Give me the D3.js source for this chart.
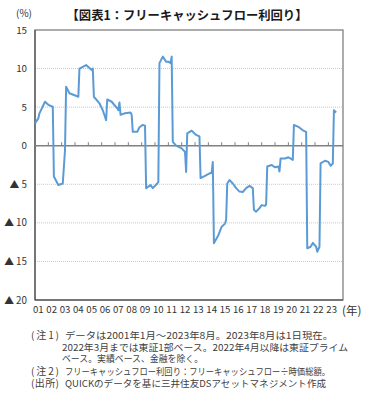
<!DOCTYPE html>
<html>
<head>
<meta charset="utf-8">
<script src="https://cdn.jsdelivr.net/npm/d3@7"></script>
<style>
  body { margin: 0; background: #fff; }
  svg { display: block; font-family: "Noto Sans CJK JP", "Noto Sans", sans-serif; }
</style>
</head>
<body>
<div id="chart"></div>
<script>
// フリーキャッシュフロー利回り（%）, 月次 (読み取り値)
const fcfMonths = [
  "2001-01","2001-04","2001-05","2001-10","2002-01","2002-05","2002-06","2002-10","2003-02","2003-04",
  "2003-05","2003-08","2004-04","2004-05","2004-11","2005-04","2005-05","2005-06","2005-11","2006-02",
  "2006-05","2006-06","2006-10","2007-03","2007-04","2007-05","2007-06","2007-10","2008-03","2008-04",
  "2008-05","2008-09","2008-11","2009-02","2009-04","2009-05","2009-09","2009-11","2010-03","2010-04",
  "2010-05","2010-08","2010-11","2011-01","2011-03","2011-04","2011-05","2011-08","2012-01","2012-04",
  "2012-05","2012-06","2012-10","2013-02","2013-05","2013-06","2013-10","2014-02","2014-04","2014-05",
  "2014-06","2014-10","2015-01","2015-04","2015-05","2015-06","2015-08","2015-11","2016-02","2016-05",
  "2016-08","2016-11","2017-02","2017-05","2017-06","2017-08","2017-11","2018-01","2018-04","2018-05",
  "2018-06","2018-10","2019-01","2019-04","2019-05","2019-06","2019-10","2020-01","2020-04","2020-05",
  "2020-06","2020-10","2021-02","2021-05","2021-06","2021-09","2021-11","2022-02","2022-03","2022-05",
  "2022-06","2022-10","2023-01","2023-03","2023-05","2023-06","2023-08"
];
const fcfValues = [
  2.9, 3.55, 4.2, 5.7, 5.3, 5.05, -4.0, -5.1, -4.9, -0.55,
  7.65, 6.8, 6.35, 10.0, 10.45, 9.8, 10.0, 6.35, 5.5, 4.6,
  3.3, 6.0, 5.7, 4.85, 4.6, 5.6, 4.0, 4.2, 4.3, 4.0,
  1.8, 1.8, 2.4, 2.7, 2.6, -5.5, -5.1, -5.5, -4.9, -4.7,
  10.7, 11.55, 10.9, 10.9, 10.7, 11.55, 0.5, 0.0, -0.35, -0.8,
  -3.4, 1.6, 1.95, 1.4, 1.2, -4.2, -3.9, -3.6, -3.5, -2.1,
  -12.65, -11.6, -10.5, -10.1, -9.6, -4.9, -4.45, -4.9, -5.5, -5.95,
  -6.0, -5.5, -5.2, -5.5, -8.3, -8.55, -8.1, -7.7, -7.8, -7.6,
  -2.7, -2.5, -2.8, -2.7, -3.35, -1.65, -1.65, -1.5, -1.75, -1.85,
  2.7, 2.45, 2.0, 1.8, -13.3, -13.1, -12.6, -13.1, -13.75, -13.1,
  -2.3, -1.95, -2.1, -2.6, -2.3, 4.6, 4.3
];
const yearLabels = ["01","02","03","04","05","06","07","08","09","10","11","12",
                    "13","14","15","16","17","18","19","20","21","22","23"];
const yTicks = [15, 10, 5, 0, -5, -10, -15, -20];
const noteHeads = ["(注1)", "(注2)", "(出所)"];
const noteLines = [
  ["データは2001年1月～2023年8月。2023年8月は1日現在。",
   "2022年3月までは東証1部ベース。2022年4月以降は東証プライム",
   "ベース。実績ベース、金融を除く。"],
  ["フリーキャッシュフロー利回り：フリーキャッシュフロー÷時価総額。"],
  ["QUICKのデータを基に三井住友DSアセットマネジメント作成"]
];
// widths measured on the reference (px)
const noteWidths = [[268, 286, 141], [265], [261]];

const W = 384, H = 395;
const plot = { left: 35, right: 343, top: 30, bottom: 300 };

const monthIndex = s => {
  const [yy, mm] = s.split("-").map(Number);
  return (yy - 2001) * 12 + (mm - 1);
};
const data = fcfMonths.map((m, i) => ({ m: monthIndex(m), v: fcfValues[i] }));

const svg = d3.select("#chart").append("svg").attr("width", W).attr("height", H);

const x = d3.scaleLinear().domain([0, yearLabels.length * 12]).range([plot.left, 341.7]);
const y = d3.scaleLinear().domain([-20, 15]).range([plot.bottom, plot.top]);

// title
svg.append("text")
  .attr("x", 187).attr("y", 19.5)
  .attr("text-anchor", "middle")
  .attr("font-size", 12.3).attr("font-weight", "bold").attr("fill", "#1a1a1a")
  .text("【図表1：フリーキャッシュフロー利回り】");
svg.append("text")
  .attr("x", 16).attr("y", 17)
  .attr("font-size", 10).attr("fill", "#333")
  .text("(%)");

// grid
svg.append("g").selectAll("line")
  .data(yTicks.filter(d => d !== 0 && d !== 15 && d !== -20))
  .join("line")
    .attr("x1", plot.left).attr("x2", plot.right)
    .attr("y1", d => y(d)).attr("y2", d => y(d))
    .attr("stroke", "#c8c8c8").attr("stroke-width", 1)
    .attr("stroke-dasharray", "1,1");

// frame
svg.append("rect")
  .attr("x", plot.left).attr("y", plot.top)
  .attr("width", plot.right - plot.left).attr("height", plot.bottom - plot.top)
  .attr("fill", "none").attr("stroke", "#808080").attr("stroke-width", 1.3);
svg.append("line")
  .attr("x1", plot.left).attr("x2", plot.left).attr("y1", plot.top).attr("y2", plot.bottom)
  .attr("stroke", "#404040").attr("stroke-width", 1);
svg.append("line")
  .attr("x1", plot.left).attr("x2", plot.right).attr("y1", plot.bottom).attr("y2", plot.bottom)
  .attr("stroke", "#404040").attr("stroke-width", 1);

// zero line + year ticks
svg.append("line")
  .attr("x1", plot.left).attr("x2", plot.right).attr("y1", y(0)).attr("y2", y(0))
  .attr("stroke", "#808080").attr("stroke-width", 1.6);
svg.append("g").selectAll("line")
  .data(d3.range(1, yearLabels.length))
  .join("line")
    .attr("x1", d => x(d * 12)).attr("x2", d => x(d * 12))
    .attr("y1", y(0) - 3.5).attr("y2", y(0))
    .attr("stroke", "#808080").attr("stroke-width", 1);

// y labels
svg.append("g").selectAll("text")
  .data(yTicks)
  .join("text")
    .attr("x", 27).attr("y", d => y(d) + 3.5)
    .attr("text-anchor", "end")
    .attr("font-size", 9.8).attr("fill", "#333")
    .text(d => d < 0 ? "▲ " + (-d) : d);

// x labels
svg.append("g").selectAll("text")
  .data(yearLabels)
  .join("text")
    .attr("x", (d, i) => x(i * 12 + 3)).attr("y", 313)
    .attr("text-anchor", "middle")
    .attr("font-size", 9.6).attr("fill", "#333")
    .text(d => d);
svg.append("text")
  .attr("x", 342).attr("y", 315)
  .attr("font-size", 11.5).attr("fill", "#333")
  .text("(年)");

// series
const line = d3.line().x(d => x(d.m)).y(d => y(d.v));
svg.append("path")
  .datum(data)
  .attr("d", line)
  .attr("fill", "none")
  .attr("stroke", "#5B9BD5")
  .attr("stroke-width", 2)
  .attr("stroke-linejoin", "round");

// notes
const noteBase = [339, 375, 387];
noteHeads.forEach((h, k) => {
  svg.append("text")
    .attr("x", 31).attr("y", noteBase[k])
    .attr("font-size", 10).attr("fill", "#404040")
    .attr("textLength", 28).attr("lengthAdjust", "spacing")
    .text(h);
  noteLines[k].forEach((t, j) => {
    svg.append("text")
      .attr("x", j === 0 ? 65 : 62).attr("y", noteBase[k] + j * 11.5)
      .attr("font-size", 9.3).attr("fill", "#404040")
      .attr("textLength", noteWidths[k][j]).attr("lengthAdjust", "spacingAndGlyphs")
      .text(t);
  });
});
</script>
</body>
</html>
